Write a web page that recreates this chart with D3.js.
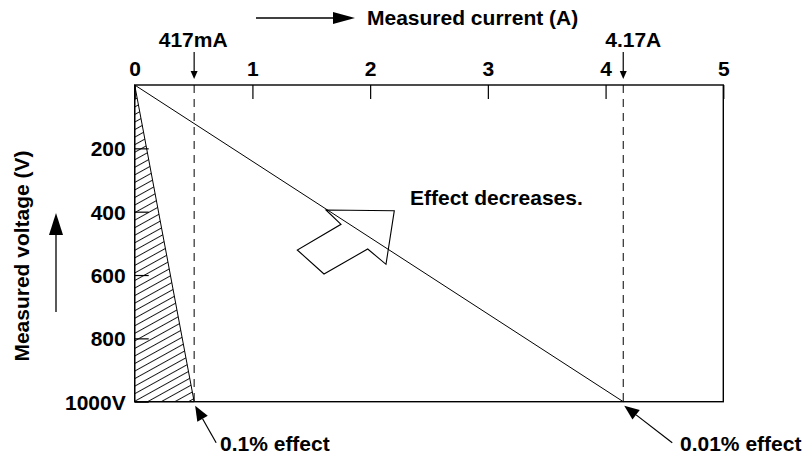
<!DOCTYPE html>
<html><head><meta charset="utf-8">
<script src="https://cdn.jsdelivr.net/npm/d3@7"></script>
<style>
html,body{margin:0;padding:0;background:#fff;}
text{font-family:"Liberation Sans",Arial,Helvetica,sans-serif;font-weight:bold;fill:#000;}
</style></head>
<body><svg id="chart" width="807" height="462"></svg>
<script>
// ---- data ----
const currentTicks = [0, 1, 2, 3, 4, 5];          // A
const voltageTicks = [200, 400, 600, 800, 1000];  // V
const currentDomain = [0, 5];
const voltageDomain = [0, 1000];
// marker positions as drawn (labels say 417mA and 4.17A)
const markerCurrents = [0.505, 4.15];
const markerLabels = ["417mA", "4.17A"];
const effectLabels = ["0.1% effect", "0.01% effect"];
const maxVoltage = 1000;

const svg = d3.select("#chart");
const x = d3.scaleLinear().domain(currentDomain).range([134.7, 723.3]);
const y = d3.scaleLinear().domain(voltageDomain).range([85, 401.7]);
const FS = 21;

// hatch pattern
const defs = svg.append("defs");
const pat = defs.append("pattern").attr("id","hatch").attr("patternUnits","userSpaceOnUse")
  .attr("width", 20).attr("height", 6.6).attr("patternTransform","rotate(-29)");
pat.append("line").attr("x1",0).attr("x2",20).attr("y1",0.5).attr("y2",0.5)
  .attr("stroke","#000").attr("stroke-width",0.9);

// hatched triangle (0.1% effect region)
svg.append("path")
  .attr("d", d3.line()([[x(0),y(0)],[x(0),y(maxVoltage)],[x(markerCurrents[0]),y(maxVoltage)]]) + "Z")
  .attr("fill","url(#hatch)").attr("stroke","#000").attr("stroke-width",1);

// diagonal line (0.01% effect boundary)
svg.append("line")
  .attr("x1", x(0)).attr("y1", y(0))
  .attr("x2", x(markerCurrents[1])).attr("y2", y(maxVoltage))
  .attr("stroke","#000").attr("stroke-width",1);

// dashed marker lines
svg.selectAll(".dash").data(markerCurrents).enter().append("line")
  .attr("x1", d=>x(d)).attr("x2", d=>x(d))
  .attr("y1", y(0)).attr("y2", y(maxVoltage))
  .attr("stroke","#000").attr("stroke-width",1).attr("stroke-dasharray","8,6");

// frame
svg.append("rect").attr("x", x(0)).attr("y", y(0))
  .attr("width", x(5)-x(0)).attr("height", y(1000)-y(0))
  .attr("fill","none").attr("stroke","#000").attr("stroke-width",1.4);

// axes
const xAxis = d3.axisTop(x).tickValues(currentTicks).tickFormat(d3.format("d"))
  .tickSizeInner(-14).tickSizeOuter(0).tickPadding(9);
const gx = svg.append("g").attr("transform",`translate(0,${y(0)})`).call(xAxis);
gx.select(".domain").remove();
gx.selectAll("line").attr("stroke","#000").attr("stroke-width",1.2);
gx.selectAll("text").attr("font-size",FS).attr("font-family",null).attr("fill","#000");

const yAxis = d3.axisLeft(y).tickValues(voltageTicks)
  .tickFormat(d => d === 1000 ? "1000V" : String(d))
  .tickSizeInner(-14).tickSizeOuter(0).tickPadding(9);
const gy = svg.append("g").attr("transform",`translate(${x(0)},0)`).call(yAxis);
gy.select(".domain").remove();
gy.selectAll("line").attr("stroke","#000").attr("stroke-width",1.2);
gy.selectAll("text").attr("font-size",FS).attr("font-family",null).attr("fill","#000").attr("dy","0.36em");

// arrow helper
function arrow(x1,y1,x2,y2,hl,hw,sw){
  const g = svg.append("g");
  const a = Math.atan2(y2-y1,x2-x1);
  const bx = x2 - hl*Math.cos(a), by = y2 - hl*Math.sin(a);
  g.append("line").attr("x1",x1).attr("y1",y1).attr("x2",bx).attr("y2",by)
    .attr("stroke","#000").attr("stroke-width",sw||1.2);
  const px = -Math.sin(a)*hw, py = Math.cos(a)*hw;
  g.append("path").attr("d",`M${x2},${y2}L${bx+px},${by+py}L${bx-px},${by-py}Z`).attr("fill","#000");
}

// top marker labels + arrows
markerCurrents.forEach((c,i)=>{
  const mx = x(c);
  svg.append("text").attr("x", mx + (i===0?-1:10)).attr("y", 47)
    .attr("text-anchor","middle").attr("font-size",FS).text(markerLabels[i]);
  arrow(mx, 52, mx, 79, 8, 3.5, 1.2);
});

// axis titles
svg.append("text").attr("x",367).attr("y",25).attr("font-size",FS).text("Measured current (A)");
arrow(256, 18, 355, 18, 22, 6, 1.3);
svg.append("text").attr("transform","translate(29,256) rotate(-90)")
  .attr("text-anchor","middle").attr("font-size",FS).text("Measured voltage (V)");
arrow(56, 312, 56, 213, 22, 7, 1.3);

// effect annotations
const effectText = [[220, 451], [680, 451]];
markerCurrents.forEach((c,i)=>{
  const tx = x(c), ty = y(maxVoltage);
  arrow(tx + (i===0?22:49), ty + 41, tx + 1, ty + 4, 15, 6, 1.2);
  svg.append("text").attr("x", effectText[i][0]).attr("y", effectText[i][1])
    .attr("font-size",FS).text(effectLabels[i]);
});

// "Effect decreases." and open arrow
svg.append("text").attr("x",410).attr("y",205).attr("font-size",FS).text("Effect decreases.");
const bigArrow = [[326,210],[394.3,210.7],[386,264.3],[367.7,249],[324,274],[297.3,250],[341,224.3]];
svg.append("path").attr("d", d3.line()(bigArrow)+"Z")
  .attr("fill","none").attr("stroke","#000").attr("stroke-width",1.1);
</script></body></html>
